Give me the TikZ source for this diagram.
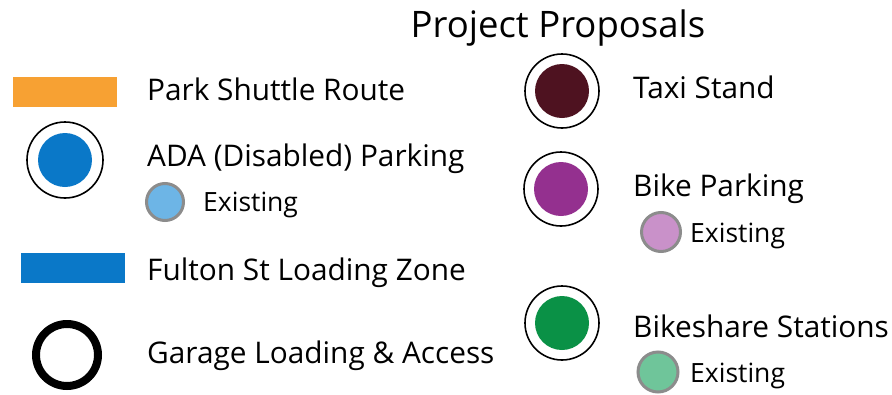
\documentclass[tikz,border=0pt]{standalone}
\usepackage{fontspec}
\setmainfont{Open Sans}
\definecolor{shuttleorange}{HTML}{F7A133}
\definecolor{adablue}{HTML}{0A78C8}
\definecolor{adalight}{HTML}{6DB5E6}
\definecolor{taximaroon}{HTML}{4E1220}
\definecolor{bikepurple}{HTML}{94308F}
\definecolor{bikelight}{HTML}{C991C9}
\definecolor{sharegreen}{HTML}{0A9146}
\definecolor{sharelight}{HTML}{6FC59A}
\definecolor{ringgray}{HTML}{8C8C8C}
\tikzset{
  lbl/.style={anchor=base west,inner sep=0pt,font=\fontsize{29.8}{34}\selectfont},
  sublbl/.style={lbl,font=\fontsize{26.5}{30}\selectfont},
  ringmark/.style={draw=black,line width=1.6pt,fill=white},
  oldmark/.style={draw=ringgray,line width=3pt}
}
\begin{document}
\begin{tikzpicture}[x=1pt,y=-1pt]
\useasboundingbox[fill=white] (0,0) rectangle (892,394);

\node[inner sep=0pt,font=\fontsize{36.5}{40}\selectfont,anchor=base] (title) at (558,37) {Project Proposals};

% left column
\fill[shuttleorange] (13,77) rectangle (117,107);
\node[lbl] (shuttle) at (147,100) {Park Shuttle Route};

\draw[ringmark] (65,160) circle (38);
\fill[adablue] (65,160) circle (27);
\node[lbl] (ada) at (147,166) {ADA (Disabled) Parking};
\draw[oldmark,fill=adalight] (165,202) circle (18.5);
\node[sublbl] (adaold) at (203,211) {Existing};

\fill[adablue] (21,253) rectangle (125,283);
\node[lbl] (fulton) at (147,280) {Fulton St Loading Zone};

\draw[line width=8pt] (67,355) circle (31);
\node[lbl] (garage) at (147,363) {Garage Loading \& Access};

% right column
\draw[ringmark] (562,91) circle (37);
\fill[taximaroon] (562,91) circle (27);
\node[lbl] (taxi) at (633,98) {Taxi Stand};

\draw[ringmark] (561,189) circle (37);
\fill[bikepurple] (561,189) circle (27);
\node[lbl] (bike) at (633,196) {Bike Parking};
\draw[oldmark,fill=bikelight] (661,232) circle (19.5);
\node[sublbl] (bikeold) at (690,242) {Existing};

\draw[ringmark] (562,323) circle (37);
\fill[sharegreen] (562,323) circle (27);
\node[lbl] (share) at (633,337) {Bikeshare Stations};
\draw[oldmark,fill=sharelight] (658,372) circle (20);
\node[sublbl] (shareold) at (690,382) {Existing};
\end{tikzpicture}
\end{document}
